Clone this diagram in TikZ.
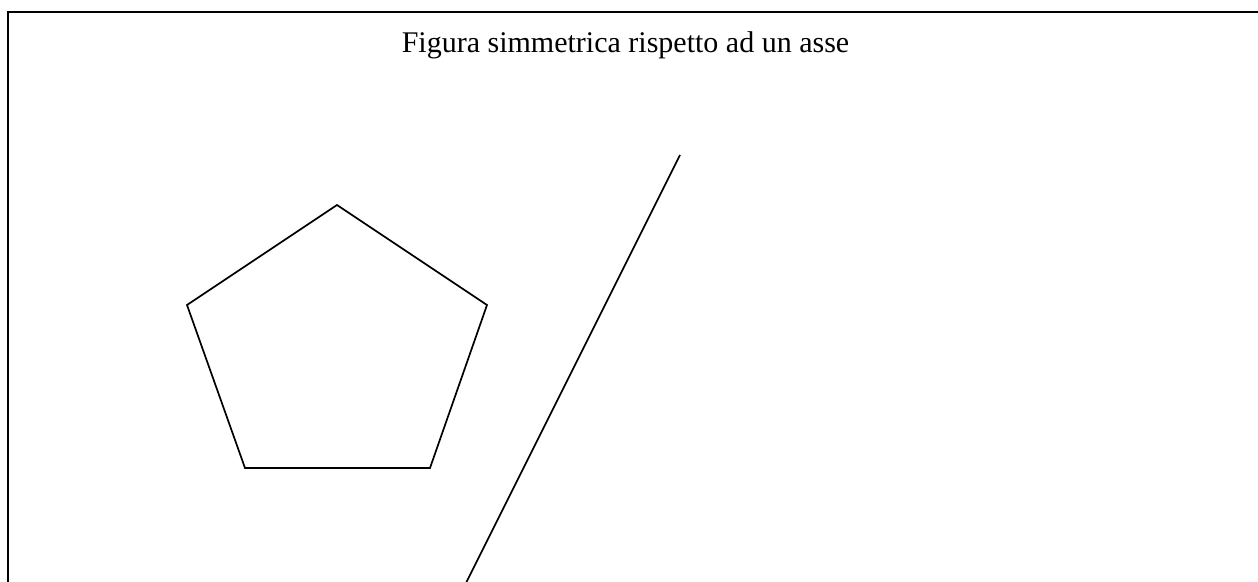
\documentclass[tikz,border=0pt]{standalone}
\usepackage{fontspec}
\setmainfont{Liberation Serif}
\begin{document}
\begin{tikzpicture}[x=1pt,y=-1pt,
  framestyle/.style={line width=2pt},
  penline/.style={line width=1.7pt, line join=miter},
  titlestyle/.style={font=\fontsize{30}{36}\selectfont, anchor=base, inner sep=0pt}]
\useasboundingbox (0,0) rectangle (1258,581);
% frame
\coordinate (ftr) at (1260,11.5);
\coordinate (ftl) at (7.5,11.5);
\coordinate (fbl) at (7.5,583);
\draw[framestyle] (ftr) -- (ftl) -- (fbl);
% title
\node[titlestyle] (t) at (625.5,52) {Figura simmetrica rispetto ad un asse};
% pentagon
\coordinate (p1) at (337,205);
\coordinate (p2) at (487,305);
\coordinate (p3) at (430,468);
\coordinate (p4) at (245,468);
\coordinate (p5) at (187,305);
\draw[penline] (p1) -- (p2) -- (p3) -- (p4) -- (p5) -- cycle;
% axis
\coordinate (a1) at (680,155);
\coordinate (a2) at (466,583);
\draw[penline] (a1) -- (a2);
\end{tikzpicture}
\end{document}
